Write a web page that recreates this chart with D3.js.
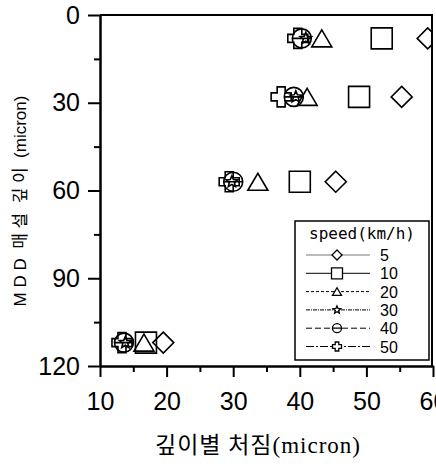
<!DOCTYPE html>
<html>
<head>
<meta charset="utf-8">
<script src="https://cdn.jsdelivr.net/npm/d3@7"></script>
<style>
  body { margin: 0; background: #fff; }
  svg { display: block; font-family: "Liberation Sans", Arial, sans-serif; }
</style>
</head>
<body>
<svg id="svg" width="436" height="468"></svg>
<script>
// DATA
var depth = [8, 28, 57, 112];                 // MDD depth (micron)
var speeds = ["5", "10", "20", "30", "40", "50"];
var defl5  = [59.2, 55.3, 45.4, 19.5];
var defl10 = [52.3, 48.9, 40.0, 16.9];
var defl20 = [43.3, 41.1, 33.7, 16.6];
var defl30 = [40.9, 39.4, 29.8, 13.8];
var defl40 = [40.3, 39.1, 30.0, 13.6];
var defl50 = [39.7, 37.2, 29.4, 13.3];
var xTicks = [10, 20, 30, 40, 50, 60];
var yTicks = [0, 30, 60, 90, 120];

var series = [defl5, defl10, defl20, defl30, defl40, defl50];
var shapes = ["diamond", "square", "triangle", "star", "circle", "plus"];
var dashes = ["none", "none", "3,2", "4,1,1,1", "6,3", "8,2,2,2"];

// SETUP
var svg = d3.select("#svg");
var x = d3.scaleLinear().domain([10, 60]).range([100, 433]);
var y = d3.scaleLinear().domain([0, 120]).range([15, 366]);

// marker paths (size s = half extent)
function markerPath(type, s) {
  var p = d3.path();
  if (type == "diamond") {
    p.moveTo(0, -s); p.lineTo(s, 0); p.lineTo(0, s); p.lineTo(-s, 0); p.closePath();
  } else if (type == "square") {
    p.rect(-s, -s, 2 * s, 2 * s);
  } else if (type == "triangle") {
    var h = s * 0.85;
    p.moveTo(0, -h); p.lineTo(s, h); p.lineTo(-s, h); p.closePath();
  } else if (type == "circle") {
    p.arc(0, 0, s, 0, 2 * Math.PI); p.closePath();
    p.moveTo(-s, 0); p.lineTo(s, 0);
  } else if (type == "plus") {
    var a = s * 0.4;
    p.moveTo(-a, -s); p.lineTo(a, -s); p.lineTo(a, -a); p.lineTo(s, -a); p.lineTo(s, a);
    p.lineTo(a, a); p.lineTo(a, s); p.lineTo(-a, s); p.lineTo(-a, a); p.lineTo(-s, a);
    p.lineTo(-s, -a); p.lineTo(-a, -a); p.closePath();
  } else if (type == "star") {
    for (var i = 0; i < 10; i++) {
      var r = i % 2 == 0 ? s : s * 0.45;
      var ang = -Math.PI / 2 + i * Math.PI / 5;
      if (i == 0) p.moveTo(r * Math.cos(ang), r * Math.sin(ang));
      else p.lineTo(r * Math.cos(ang), r * Math.sin(ang));
    }
    p.closePath();
  }
  return p.toString();
}
var bigSize = { diamond: 10.5, square: 10.5, triangle: 10, star: 6, circle: 9.5, plus: 10 };
var smallSize = { diamond: 5, square: 5.5, triangle: 4.5, star: 4, circle: 4.5, plus: 4.5 };

// AXES
var axisStyle = function (g) {
  g.selectAll("path, line").attr("stroke", "#000").attr("stroke-width", 2);
  g.selectAll("text").attr("fill", "#000")
    .style("font-size", "25px")
    .style("font-family", "'Liberation Sans', Arial, sans-serif");
};

svg.append("g")
  .attr("transform", "translate(0," + y(120) + ")")
  .call(d3.axisBottom(x).tickValues(d3.range(15, 60, 10)).tickSize(6).tickSizeOuter(0).tickFormat(""))
  .call(axisStyle);
svg.append("g")
  .attr("transform", "translate(0," + y(120) + ")")
  .call(d3.axisBottom(x).tickValues(xTicks).tickSize(11).tickSizeOuter(0).tickPadding(15))
  .call(axisStyle);

svg.append("g")
  .attr("transform", "translate(" + x(10) + ",0)")
  .call(d3.axisLeft(y).tickValues(d3.range(15, 120, 30)).tickSize(6).tickSizeOuter(0).tickFormat(""))
  .call(axisStyle);
svg.append("g")
  .attr("transform", "translate(" + x(10) + ",0)")
  .call(d3.axisLeft(y).tickValues(yTicks).tickSize(12).tickSizeOuter(0).tickPadding(8))
  .call(axisStyle);

// frame top / right
svg.append("line").attr("x1", x(10)).attr("x2", x(60)).attr("y1", y(0)).attr("y2", y(0))
  .attr("stroke", "#000").attr("stroke-width", 2);
svg.append("line").attr("x1", x(60) - 1).attr("x2", x(60) - 1).attr("y1", y(0)).attr("y2", y(120))
  .attr("stroke", "#000").attr("stroke-width", 2);

// axis titles
svg.append("text")
  .attr("transform", "translate(26,201) rotate(-90)")
  .attr("text-anchor", "middle")
  .style("font-size", "17px")
  .style("white-space", "pre")
  .style("font-family", "'Liberation Sans', 'Noto Sans CJK KR', sans-serif")
  .text("M D D  매 설  깊 이  (micron)");

svg.append("text")
  .attr("x", 258).attr("y", 453)
  .attr("text-anchor", "middle")
  .attr("letter-spacing", 1)
  .style("font-size", "23px")
  .style("font-family", "'Liberation Serif', 'Noto Sans CJK KR', serif")
  .text("깊이별 처짐(micron)");

// MARKS
svg.append("clipPath").attr("id", "plot")
  .append("rect").attr("x", x(10)).attr("y", y(0)).attr("width", x(60) - x(10) - 1).attr("height", y(120) - y(0));

var marks = svg.append("g").attr("clip-path", "url(#plot)");
series.forEach(function (vals, si) {
  marks.selectAll(".m" + si)
    .data(vals)
    .enter().append("path")
    .attr("class", "m" + si)
    .attr("transform", function (d, i) { return "translate(" + x(d) + "," + y(depth[i]) + ")"; })
    .attr("d", markerPath(shapes[si], bigSize[shapes[si]]))
    .attr("fill", "none")
    .attr("stroke", "#000")
    .attr("stroke-width", 1.6);
});

// LEGEND
var lg = svg.append("g");
lg.append("rect").attr("x", 295).attr("y", 221).attr("width", 134).attr("height", 139)
  .attr("fill", "#fff").attr("stroke", "#000").attr("stroke-width", 1.5);
lg.append("text").attr("x", 362).attr("y", 239).attr("text-anchor", "middle")
  .style("font-size", "16px").style("font-family", "'DejaVu Sans Mono', monospace")
  .text("speed(km/h)");

var rows = lg.selectAll(".row").data(speeds).enter().append("g")
  .attr("transform", function (d, i) { return "translate(0," + (255 + i * 18.3) + ")"; });
rows.append("line").attr("x1", 306).attr("x2", 370).attr("y1", 0).attr("y2", 0)
  .attr("stroke", function (d, i) { return i == 0 ? "#777" : "#000"; })
  .attr("stroke-width", 1)
  .attr("stroke-dasharray", function (d, i) { return dashes[i]; });
rows.append("path")
  .attr("transform", "translate(337,0)")
  .attr("d", function (d, i) { return markerPath(shapes[i], smallSize[shapes[i]]); })
  .attr("fill", "#fff").attr("stroke", "#000").attr("stroke-width", 1.3);
rows.append("text").attr("x", 380).attr("y", 6)
  .style("font-size", "16px")
  .text(function (d) { return d; });
</script>
</body>
</html>
